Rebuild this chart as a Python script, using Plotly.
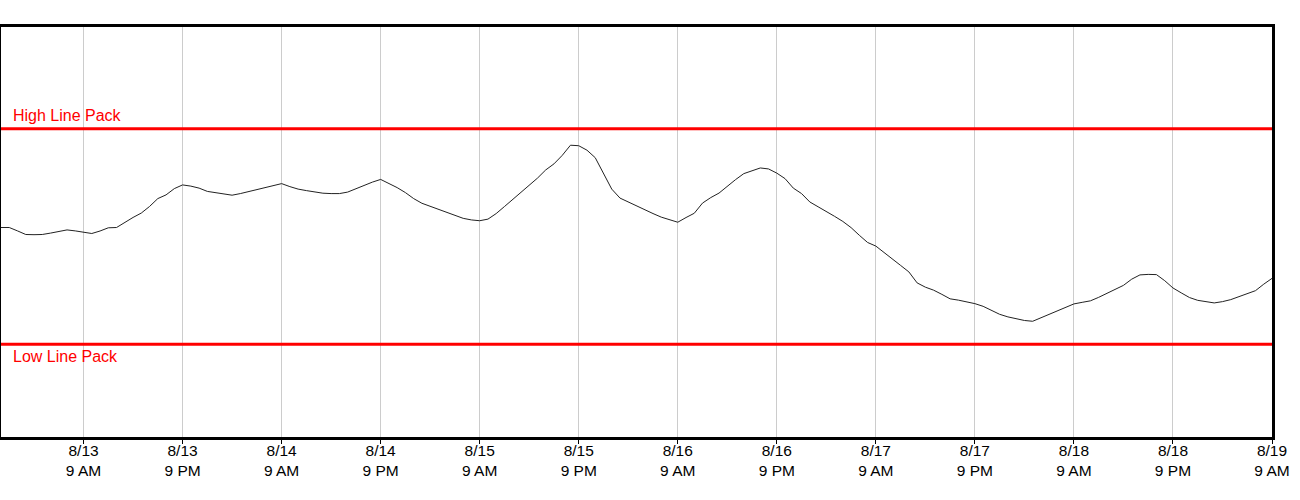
import pandas as pd
import plotly.graph_objects as go

# hourly line pack readings, 8/12 11 PM through 8/19 9 AM
start_time = "2024-08-12 23:00"
end_time = "2024-08-19 09:00"
line_pack = [
    210.0, 210.0, 206.6, 203.0, 202.8, 203.0, 204.4, 205.7, 207.6, 206.6,
    205.3, 204.0, 206.5, 209.7, 210.0, 215.2, 220.1, 224.5, 231.1, 239.0,
    242.7, 249.0, 252.7, 251.5, 249.5, 246.2, 244.7, 243.5, 242.4, 244.0,
    246.0, 248.0, 250.0, 252.0, 254.0, 251.0, 248.5, 247.0, 245.7, 244.4,
    244.0, 244.0, 245.5, 249.0, 252.0, 255.5, 258.2, 254.5, 250.0, 245.0,
    239.0, 234.3, 231.2, 228.0, 224.7, 221.5, 219.2, 217.6, 216.8, 218.4,
    224.0, 231.0, 238.2, 245.2, 252.0, 259.5, 267.7, 273.8, 282.3, 292.5,
    292.0, 287.5, 280.0, 264.5, 248.5, 239.5, 235.5, 232.2, 228.0, 224.0,
    220.4, 218.0, 215.3, 220.0, 224.3, 234.5, 240.0, 244.5, 251.5, 258.0,
    264.0, 267.2, 269.7, 268.7, 264.5, 259.0, 249.5, 244.0, 235.6, 230.8,
    226.3, 221.2, 216.1, 209.9, 202.2, 195.0, 191.4, 185.2, 178.5, 172.0,
    165.5, 154.5, 150.2, 147.2, 143.0, 138.5, 137.2, 135.8, 133.7, 131.0,
    127.2, 123.0, 120.4, 118.3, 116.8, 116.0, 119.5, 123.2, 127.0, 130.2,
    133.4, 135.0, 136.5, 140.0, 144.0, 148.0, 152.0, 158.2, 162.5, 163.0,
    162.8, 156.7, 149.4, 144.5, 139.8, 137.0, 135.5, 134.4, 135.7, 137.7,
    140.7, 143.7, 146.7, 153.2, 159.0,
]
high_line_pack = 309
low_line_pack = 93

tick_times = [
    "2024-08-13 09:00", "2024-08-13 21:00", "2024-08-14 09:00", "2024-08-14 21:00",
    "2024-08-15 09:00", "2024-08-15 21:00", "2024-08-16 09:00", "2024-08-16 21:00",
    "2024-08-17 09:00", "2024-08-17 21:00", "2024-08-18 09:00", "2024-08-18 21:00",
    "2024-08-19 09:00",
]
tick_labels = [
    "8/13<br>9 AM", "8/13<br>9 PM", "8/14<br>9 AM", "8/14<br>9 PM",
    "8/15<br>9 AM", "8/15<br>9 PM", "8/16<br>9 AM", "8/16<br>9 PM",
    "8/17<br>9 AM", "8/17<br>9 PM", "8/18<br>9 AM", "8/18<br>9 PM",
    "8/19<br>9 AM",
]

times = pd.date_range(start_time, periods=len(line_pack), freq="h")

fig = go.Figure()
fig.add_trace(go.Scatter(x=times, y=line_pack, mode="lines",
                         line=dict(color="#222222", width=1), showlegend=False))

# high / low limits
for level in (high_line_pack, low_line_pack):
    fig.add_shape(type="line", xref="paper", x0=0, x1=1, yref="y", y0=level, y1=level,
                  line=dict(color="#ff0000", width=3))

fig.add_annotation(text="High Line Pack", xref="paper", x=0, xanchor="left", xshift=10,
                   yref="y", y=high_line_pack, yanchor="bottom", yshift=3,
                   showarrow=False, font=dict(color="#ff0000", size=16))
fig.add_annotation(text="Low Line Pack", xref="paper", x=0, xanchor="left", xshift=10,
                   yref="y", y=low_line_pack, yanchor="top", yshift=-2,
                   showarrow=False, font=dict(color="#ff0000", size=16))

fig.update_layout(
    width=1300, height=500,
    margin=dict(l=1, r=28, t=27, b=63),
    plot_bgcolor="white", paper_bgcolor="white",
    font=dict(family="Arial, Liberation Sans, sans-serif", color="black", size=15.5),
    xaxis=dict(
        range=[start_time, end_time],
        tickvals=tick_times, ticktext=tick_labels,
        showgrid=True, gridcolor="#cccccc", gridwidth=1,
        showline=True, linecolor="black", linewidth=3, mirror=True,
        ticks="outside", ticklen=4, tickcolor="black", tickwidth=1,
        ticklabelstandoff=-7,
        zeroline=False,
    ),
    yaxis=dict(
        range=[0, 411],
        showgrid=False, showticklabels=False, zeroline=False,
        showline=True, linecolor="black", linewidth=3, mirror=True,
    ),
)

# page body has an 8px default margin; drop it so the chart sits at the corner
fig.write_html("out.html", config={"displayModeBar": False},
               post_script="document.body.style.margin='0';")
